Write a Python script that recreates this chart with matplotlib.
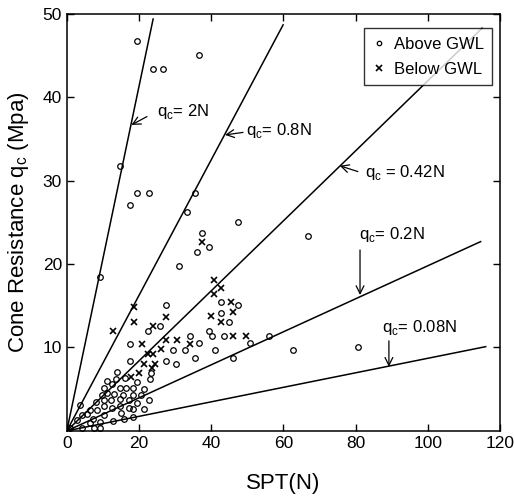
import matplotlib
matplotlib.use("Agg")
import matplotlib.pyplot as plt

plt.rcParams['font.family'] = ['Liberation Sans', 'DejaVu Sans']
plt.rcParams['mathtext.fontset'] = 'custom'
plt.rcParams['mathtext.rm'] = 'Liberation Sans'

# data: SPT N value, cone resistance qc (MPa)
above_n = [19.5, 36.6, 23.9, 26.7, 14.7, 19.5, 22.7, 17.5, 35.5, 33.3, 47.4, 37.3,
           39.4, 36.0, 31.0, 9.3, 66.7,
           27.4, 47.5, 42.7, 42.7, 44.9, 22.4, 25.7, 34.1, 39.4, 40.3, 43.4, 56.0,
           50.7, 36.6, 17.5, 29.5, 32.7, 41.1, 62.7, 80.7, 35.4, 46.1, 27.4, 30.1,
           17.4, 14.0, 23.2, 19.3, 22.9, 12.4,
           10.4, 14.6, 16.5, 21.3, 18.2, 9.8, 11.2, 13.0, 15.5, 18.2, 10.2, 12.1,
           14.7, 17.2, 19.3, 22.8, 3.7, 6.3, 8.4, 10.2, 12.4, 14.7, 17.2, 18.2,
           21.3, 4.2, 7.3, 10.2, 9.3, 12.8, 15.8, 18.2, 2.7, 0.8, 4.2, 7.5, 9.1,
           13.5, 11.0, 16.0, 8.0, 5.5, 6.5, 20.5, 15.0]
above_q = [46.8, 45.1, 43.4, 43.4, 31.8, 28.5, 28.5, 27.1, 28.5, 26.3, 25.1, 23.7,
           22.1, 21.5, 19.8, 18.4, 23.4,
           15.1, 15.1, 15.4, 14.1, 13.1, 12.0, 12.6, 11.4, 12.0, 11.4, 11.4, 11.4,
           10.5, 10.5, 10.4, 9.7, 9.7, 9.7, 9.7, 10.1, 8.7, 8.7, 8.4, 8.0,
           8.4, 7.1, 7.0, 5.9, 6.2, 5.6,
           5.1, 5.1, 5.1, 5.0, 5.2, 4.3, 4.5, 4.4, 4.3, 4.3, 3.7, 3.7,
           3.8, 3.7, 3.4, 3.7, 3.1, 2.5, 2.5, 3.0, 2.7, 3.0, 2.7, 2.6,
           2.6, 1.9, 1.4, 1.9, 1.1, 1.2, 1.4, 1.7, 1.3, 0.3, 0.3, 0.4, 0.4,
           6.2, 6.0, 6.4, 3.5, 2.0, 1.0, 4.3, 2.2]

below_n = [37.3, 40.7, 42.7, 40.7, 18.6, 27.4, 18.6, 40.0, 42.7, 45.4, 46.1, 12.8,
           24.0, 20.8, 27.4, 30.6, 34.1, 26.1, 22.4, 23.9, 21.5, 24.5, 23.5, 20.0,
           17.7, 46.1, 49.5]
below_q = [22.7, 18.1, 17.1, 16.4, 14.8, 13.7, 13.1, 13.8, 13.1, 15.4, 14.3, 12.0,
           12.6, 10.4, 10.9, 10.9, 10.4, 9.8, 9.2, 9.2, 8.0, 8.0, 7.5, 6.9,
           6.5, 11.4, 11.4]

# qc = k N reference lines (end points)
line_k = ['2', '0.8', '0.42', '0.2', '0.08']
line_end_n = [23.9, 59.9, 115.0, 114.6, 116.0]
line_end_q = [49.4, 48.7, 48.3, 22.7, 10.1]

fig = plt.figure(figsize=(5.14, 5.01), dpi=100)
ax = fig.add_axes([0.130, 0.140, 0.843, 0.832])

for n_end, q_end in zip(line_end_n, line_end_q):
    ax.plot([0, n_end], [0, q_end], color='black', lw=1.1, zorder=2)

ax.plot(above_n, above_q, 'o', ms=4, mfc='none', mec='black', mew=0.9,
        label='Above GWL', zorder=3)
ax.plot(below_n, below_q, 'x', ms=5, color='black', mew=1.2,
        label='Below GWL', zorder=3)

arrow = dict(arrowstyle='->', color='black', lw=0.9, mutation_scale=14,
             shrinkA=0, shrinkB=0)
fs = 12
ax.annotate('', xy=(17.9, 36.7), xytext=(22.2, 37.7), arrowprops=arrow)
ax.text(24.9, 38.3, r'q$_\mathregular{c}$= %sN' % line_k[0], fontsize=fs, va='center')
ax.annotate('', xy=(43.8, 35.5), xytext=(48.8, 35.8), arrowprops=arrow)
ax.text(49.6, 36.0, r'q$_\mathregular{c}$= %sN' % line_k[1], fontsize=fs, va='center')
ax.annotate('', xy=(75.6, 31.8), xytext=(80.6, 31.1), arrowprops=arrow)
ax.text(82.5, 31.0, r'q$_\mathregular{c}$ = %sN' % line_k[2], fontsize=fs, va='center')
ax.annotate('', xy=(81.2, 16.3), xytext=(81.2, 21.7), arrowprops=arrow)
ax.text(80.8, 23.5, r'q$_\mathregular{c}$= %sN' % line_k[3], fontsize=fs, va='center')
ax.annotate('', xy=(89.2, 7.7), xytext=(89.2, 10.8), arrowprops=arrow)
ax.text(87.3, 12.4, r'q$_\mathregular{c}$= %sN' % line_k[4], fontsize=fs, va='center')

ax.set_xlim(0, 120)
ax.set_ylim(0, 50)
ax.set_xticks([0, 20, 40, 60, 80, 100, 120])
ax.set_yticks([10, 20, 30, 40, 50])
ax.tick_params(direction='in', length=5, width=1, labelsize=12.5, top=True, right=True)
for s in ax.spines.values():
    s.set_linewidth(1.1)

ax.set_xlabel('SPT(N)', fontsize=16, labelpad=16)
ax.set_ylabel(r'Cone Resistance q$_\mathregular{c}$ (Mpa)', fontsize=16, labelpad=8)

leg = ax.legend(loc='upper right', fontsize=12, frameon=True, fancybox=False,
                handlelength=0.8, handletextpad=0.5, borderpad=0.5,
                labelspacing=0.6, markerscale=0.8, borderaxespad=0,
                bbox_to_anchor=(0.981, 0.966))
leg.get_frame().set_edgecolor('black')
leg.get_frame().set_linewidth(1.0)
leg.set_zorder(5)

fig.savefig('out.png', dpi=100)
